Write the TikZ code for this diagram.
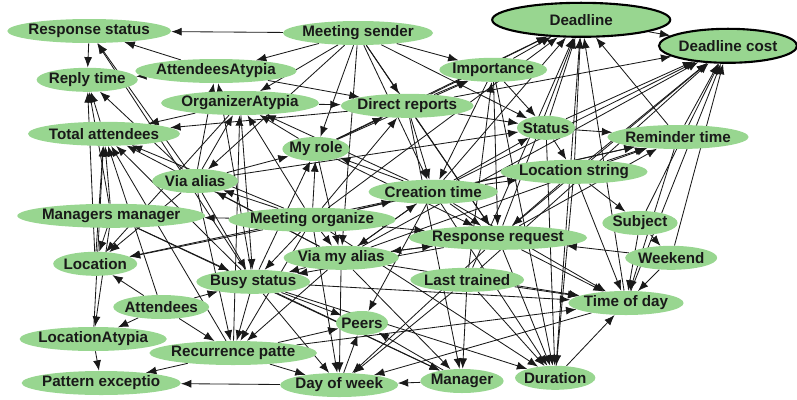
\documentclass[tikz,border=0pt]{standalone}
\usepackage{fontspec}
\setmainfont{Liberation Sans}
\usetikzlibrary{arrows.meta,shapes.geometric,backgrounds}
\definecolor{nodeg}{RGB}{152,214,144}
\definecolor{edgec}{RGB}{25,25,25}

\begin{document}
\begin{tikzpicture}[
  font=\fontsize{10.8}{12}\selectfont\bfseries,
  var/.style={ellipse, fill=nodeg, inner xsep=-2pt, inner ysep=0pt,
              minimum height=0.6cm, text=black!90},
  goal/.style={var, draw=black, line width=1.5pt, minimum height=0.85cm},
  dep/.style={draw=edgec, line width=0.6pt, -{Latex[length=2.6mm,width=2mm]}},
]
\useasboundingbox (0,0) rectangle (19.925,9.975);

% ---------------- variables ----------------
\node[var, minimum width=4.08cm] (respstat) at (2.23,9.20) {Response status};
\node[var, minimum width=3.75cm] (sender)   at (8.95,9.15) {Meeting sender};
\node[goal, minimum width=4.45cm] (deadline) at (14.53,9.48) {Deadline};
\node[goal, minimum width=3.45cm] (dcost)    at (18.20,8.83) {Deadline cost};
\node[var, minimum width=2.53cm] (reply)    at (2.18,7.98) {Reply time};
\node[var, minimum width=4.03cm] (attatyp)  at (5.40,8.20) {AttendeesAtypia};
\node[var, minimum width=2.68cm] (import)   at (12.33,8.23) {Importance};
\node[var, minimum width=3.85cm] (orgatyp)  at (6.00,7.40) {OrganizerAtypia};
\node[var, minimum width=3.28cm] (direct)   at (10.18,7.33) {Direct reports};
\node[var, minimum width=1.45cm] (status)   at (13.65,6.78) {Status};
\node[var, minimum width=3.80cm] (totatt)   at (2.60,6.63) {Total attendees};
\node[var, minimum width=3.50cm] (remind)   at (16.95,6.55) {Reminder time};
\node[var, minimum width=1.63cm] (myrole)   at (7.90,6.25) {My role};
\node[var, minimum width=2.15cm] (viaalias) at (4.88,5.45) {Via alias};
\node[var, minimum width=3.18cm] (creation) at (10.83,5.18) {Creation time};
\node[var, minimum width=3.55cm] (locstr)   at (14.35,5.68) {Location string};
\node[var, minimum width=4.63cm] (mgrmgr)   at (2.78,4.58) {Managers manager};
\node[var, minimum width=4.13cm] (meetorg)  at (7.80,4.48) {Meeting organize};
\node[var, minimum width=1.88cm] (subject)  at (16.00,4.40) {Subject};
\node[var, minimum width=4.43cm] (respreq)  at (12.45,4.03) {Response request};
\node[var, minimum width=2.10cm] (location) at (2.38,3.38) {Location};
\node[var, minimum width=2.88cm] (viamy)    at (8.53,3.53) {Via my alias};
\node[var, minimum width=2.30cm] (weekend)  at (16.78,3.53) {Weekend};
\node[var, minimum width=2.68cm] (busy)     at (6.33,2.93) {Busy status};
\node[var, minimum width=2.83cm] (lasttr)   at (11.68,2.98) {Last trained};
\node[var, minimum width=2.38cm] (attend)   at (4.03,2.30) {Attendees};
\node[var, minimum width=2.88cm] (timeday)  at (15.65,2.40) {Time of day};
\node[var, minimum width=1.30cm] (peers)    at (9.05,1.90) {Peers};
\node[var, minimum width=3.33cm] (locatyp)  at (2.33,1.50) {LocationAtypia};
\node[var, minimum width=4.08cm] (recur)    at (5.83,1.15) {Recurrence patte};
\node[var, minimum width=2.08cm] (manager)  at (11.55,0.45) {Manager};
\node[var, minimum width=2.00cm] (duration) at (13.88,0.53) {Duration};
\node[var, minimum width=3.70cm] (patexc)   at (2.53,0.40) {Pattern exceptio};
\node[var, minimum width=2.95cm] (dayweek)  at (8.48,0.35) {Day of week};

\begin{scope}[on background layer]
% response status, reply time, total attendees
\draw[dep] (sender)--(respstat); \draw[dep] (attatyp)--(respstat); \draw[dep] (viaalias)--(respstat);
\draw[dep] (busy)--(respstat); \draw[dep] (respstat)--(reply); \draw[dep] (attatyp)--(reply);
\draw[dep] (totatt)--(reply); \draw[dep] (mgrmgr)--(reply); \draw[dep] (viaalias)--(reply);
\draw[dep] (location)--(reply);
\draw[dep] (orgatyp)--(totatt); \draw[dep] (direct)--(totatt); \draw[dep] (attend)--(totatt);
\draw[dep] (location)--(totatt); \draw[dep] (mgrmgr)--(totatt); \draw[dep] (busy)--(totatt);
\draw[dep] (meetorg)--(totatt); \draw[dep] (recur)--(totatt); \draw[dep] (viamy)--(totatt);
\draw[dep] (locatyp)--(totatt);

% atypia nodes
\draw[dep] (sender)--(attatyp); \draw[dep] (viaalias)--(attatyp); \draw[dep] (busy)--(attatyp);
\draw[dep] (sender)--(orgatyp); \draw[dep] (viaalias)--(orgatyp); \draw[dep] (meetorg)--(orgatyp);
\draw[dep] (myrole)--(orgatyp); \draw[dep] (creation)--(orgatyp); \draw[dep] (recur)--(orgatyp);

% importance, direct reports, status
\draw[dep] (sender)--(import); \draw[dep] (direct)--(import); \draw[dep] (myrole)--(import);
\draw[dep] (lasttr)--(import); \draw[dep] (sender)--(direct); \draw[dep] (attatyp)--(direct);
\draw[dep] (orgatyp)--(direct); \draw[dep] (meetorg)--(direct); \draw[dep] (myrole)--(direct);
\draw[dep] (sender)--(status); \draw[dep] (import)--(status); \draw[dep] (direct)--(status);
\draw[dep] (creation)--(status); \draw[dep] (viaalias)--(status);

% deadline and its cost
\draw[dep] (import)--(deadline); \draw[dep] (direct)--(deadline); \draw[dep] (status)--(deadline);
\draw[dep] (locstr)--(deadline); \draw[dep] (creation)--(deadline); \draw[dep] (respreq)--(deadline);
\draw[dep] (duration)--(deadline); \draw[dep] (timeday)--(deadline); \draw[dep] (remind)--(deadline);
\draw[dep] (myrole)--(deadline); \draw[dep] (lasttr)--(deadline); \draw[dep] (meetorg)--(deadline);
\draw[dep] (deadline)--(dcost); \draw[dep] (direct)--(dcost); \draw[dep] (status)--(dcost);
\draw[dep] (locstr)--(dcost); \draw[dep] (remind)--(dcost); \draw[dep] (respreq)--(dcost);
\draw[dep] (creation)--(dcost); \draw[dep] (subject)--(dcost); \draw[dep] (timeday)--(dcost);
\draw[dep] (lasttr)--(dcost); \draw[dep] (viamy)--(dcost); \draw[dep] (weekend)--(dcost);

% middle band
\draw[dep] (sender)--(myrole); \draw[dep] (viaalias)--(myrole); \draw[dep] (meetorg)--(myrole);
\draw[dep] (busy)--(myrole); \draw[dep] (creation)--(myrole);
\draw[dep] (sender)--(viaalias); \draw[dep] (meetorg)--(viaalias); \draw[dep] (viamy)--(viaalias);
\draw[dep] (sender)--(creation); \draw[dep] (meetorg)--(creation); \draw[dep] (viamy)--(creation);
\draw[dep] (import)--(creation); \draw[dep] (direct)--(creation);
\draw[dep] (status)--(locstr); \draw[dep] (creation)--(locstr);
\draw[dep] (locstr)--(remind); \draw[dep] (status)--(remind); \draw[dep] (creation)--(remind);
\draw[dep] (respreq)--(remind); \draw[dep] (meetorg)--(remind); \draw[dep] (viamy)--(remind);

% response request, subject, weekend
\draw[dep] (sender)--(respreq); \draw[dep] (locstr)--(respreq); \draw[dep] (creation)--(respreq);
\draw[dep] (meetorg)--(respreq); \draw[dep] (viamy)--(respreq); \draw[dep] (myrole)--(respreq);
\draw[dep] (direct)--(respreq); \draw[dep] (weekend)--(respreq); \draw[dep] (import)--(respreq);
\draw[dep] (subject)--(weekend); \draw[dep] (locstr)--(subject);

% location, managers manager, via my alias, busy status
\draw[dep] (meetorg)--(mgrmgr); \draw[dep] (attend)--(location); \draw[dep] (mgrmgr)--(location);
\draw[dep] (meetorg)--(location); \draw[dep] (viaalias)--(location); \draw[dep] (orgatyp)--(location);
\draw[dep] (creation)--(location);
\draw[dep] (meetorg)--(viamy); \draw[dep] (creation)--(viamy); \draw[dep] (sender)--(viamy);
\draw[dep] (respreq)--(viamy); \draw[dep] (myrole)--(viamy);
\draw[dep] (attend)--(busy); \draw[dep] (meetorg)--(busy); \draw[dep] (viamy)--(busy);
\draw[dep] (viaalias)--(busy); \draw[dep] (mgrmgr)--(busy); \draw[dep] (respreq)--(busy);
\draw[dep] (orgatyp)--(busy);

% time of day, duration
\draw[dep] (subject)--(timeday); \draw[dep] (weekend)--(timeday); \draw[dep] (locstr)--(timeday);
\draw[dep] (lasttr)--(timeday); \draw[dep] (respreq)--(timeday); \draw[dep] (duration)--(timeday);
\draw[dep] (creation)--(timeday); \draw[dep] (recur)--(timeday); \draw[dep] (busy)--(timeday);
\draw[dep] (remind)--(timeday); \draw[dep] (viamy)--(timeday);
\draw[dep] (import)--(duration); \draw[dep] (respreq)--(duration); \draw[dep] (locstr)--(duration);
\draw[dep] (lasttr)--(duration); \draw[dep] (busy)--(duration); \draw[dep] (meetorg)--(duration);
\draw[dep] (status)--(duration); \draw[dep] (creation)--(duration);

% bottom row
\draw[dep] (lasttr)--(manager); \draw[dep] (viamy)--(manager); \draw[dep] (direct)--(manager);
\draw[dep] (busy)--(manager); \draw[dep] (mgrmgr)--(manager);
\draw[dep] (manager)--(peers); \draw[dep] (dayweek)--(peers); \draw[dep] (busy)--(peers);
\draw[dep] (recur)--(peers); \draw[dep] (creation)--(peers);
\draw[dep] (manager)--(dayweek); \draw[dep] (timeday)--(dayweek); \draw[dep] (respreq)--(dayweek);
\draw[dep] (lasttr)--(dayweek); \draw[dep] (recur)--(dayweek); \draw[dep] (meetorg)--(dayweek);
\draw[dep] (busy)--(dayweek); \draw[dep] (viamy)--(dayweek);
\draw[dep] (attend)--(locatyp); \draw[dep] (mgrmgr)--(locatyp);
\draw[dep] (busy)--(recur); \draw[dep] (meetorg)--(recur); \draw[dep] (viamy)--(recur);
\draw[dep] (attend)--(recur); \draw[dep] (viaalias)--(recur);
\draw[dep] (dayweek)--(patexc); \draw[dep] (recur)--(patexc); \draw[dep] (locatyp)--(patexc);
\end{scope}
\end{tikzpicture}
\end{document}
